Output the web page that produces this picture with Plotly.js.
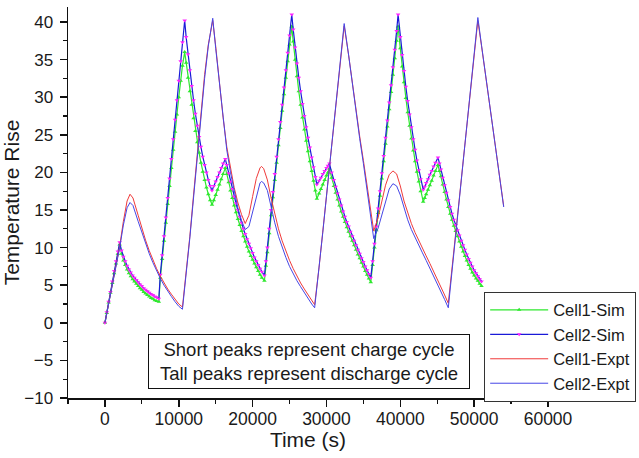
<!DOCTYPE html>
<html>
<head>
<meta charset="utf-8">
<script src="https://cdn.plot.ly/plotly-3.0.1.min.js"></script>
<style>html,body{margin:0;padding:0;background:#fff;}#chart{width:639px;height:458px;}</style>
</head>
<body>
<div id="chart"></div>
<script>
// Simulation time base (s)
const simTime = [
  0,250,500,750,1000,1250,1500,1750,2000,
  2250,2500,2750,3000,3250,3500,3750,4000,4250,4500,4750,5000,5250,5500,5750,6000,6250,6500,6750,7000,7300,
  7500,7750,8000,8250,8500,8750,9000,9250,9500,9750,10000,10250,10500,10800,
  11000,11250,11500,11750,12000,12250,12500,12750,13000,13250,13500,13750,14000,14250,14500,
  14750,15000,15250,15500,15750,16000,16300,
  16500,16750,17000,17250,17500,17750,18000,18250,18500,18750,19000,19250,19500,19750,20000,20250,20500,20750,21000,21250,21600,
  21800,22000,22250,22500,22750,23000,23250,23500,23750,24000,24250,24500,24750,25000,25300,
  25500,25750,26000,26250,26500,26750,27000,27250,27500,27750,28000,28250,28500,28700,
  29000,29250,29500,29750,30000,30200,30400,
  30700,31000,31250,31500,31750,32000,32250,32500,32750,33000,33250,33500,33750,34000,34250,34500,34750,35000,35250,35500,35750,36000,
  36250,36500,36750,37000,37250,37500,37750,38000,38250,38500,38750,39000,39250,39500,39700,
  40000,40250,40500,40750,41000,41250,41500,41750,42000,42250,42500,42750,43100,
  43300,43500,43750,44000,44250,44500,44750,45100,
  45300,45500,45750,46000,46250,46500,46750,47000,47250,47500,47750,48000,48250,48500,48750,49000,49250,49500,49750,50000,50250,50500,50750,51000];
const cell1Sim = [
  0,1.3,2.7,4.0,5.3,6.6,7.9,9.2,10.4,
  9.2,8.3,7.7,7.1,6.6,6.2,5.8,5.5,5.2,4.9,4.6,4.4,4.1,3.9,3.7,3.5,3.3,3.2,3.0,2.9,2.8,
  6.0,8.5,10.9,13.3,15.8,18.2,20.6,23.0,25.4,27.7,30.0,32.2,34.2,36.0,
  34.6,32.6,30.8,29.0,27.2,25.5,24.0,22.6,21.3,20.1,19.0,18.0,17.1,16.3,15.7,
  16.3,17.0,17.7,18.4,19.1,19.8,20.6,
  19.8,18.7,17.6,16.6,15.6,14.7,13.8,13.0,12.2,11.5,10.8,10.1,9.5,8.9,8.4,7.9,7.4,6.9,6.4,6.0,5.6,
  7.6,9.4,11.9,14.3,16.7,19.0,21.3,23.6,25.9,28.2,30.4,32.6,34.8,37.0,39.4,
  37.4,35.0,32.8,30.8,29.0,27.3,25.7,24.2,22.8,21.5,20.2,18.9,17.6,16.5,
  17.2,17.8,18.4,19.0,19.6,20.0,20.5,
  19.3,18.2,17.3,16.4,15.6,14.8,14.1,13.4,12.7,12.1,11.5,10.9,10.3,9.7,9.1,8.6,8.0,7.5,6.9,6.4,5.9,5.4,
  7.7,10.0,12.3,14.6,16.9,19.2,21.5,23.8,26.1,28.4,30.7,33.0,35.2,37.5,39.4,
  36.5,34.1,32.0,29.9,28.0,26.2,24.5,22.9,21.5,20.1,18.8,17.5,16.1,
  16.6,17.1,17.7,18.3,18.9,19.6,20.2,21.0,
  20.2,19.5,18.4,17.4,16.4,15.4,14.5,13.7,12.9,12.2,11.5,10.8,10.1,9.5,8.9,8.3,7.7,7.2,6.7,6.3,5.9,5.6,5.2,4.9];
const cell2Sim = [
  0,1.4,2.8,4.1,5.5,6.9,8.2,9.5,10.7,
  9.6,8.8,8.2,7.6,7.1,6.7,6.3,6.0,5.7,5.4,5.1,4.9,4.6,4.4,4.2,4.0,3.8,3.7,3.5,3.4,3.2,
  6.4,9.0,11.5,14.0,16.6,19.2,21.8,24.4,27.0,29.6,32.2,34.8,37.3,40.2,
  38.0,35.7,33.6,31.5,29.6,27.8,26.2,24.7,23.4,22.1,21.0,20.0,19.0,18.2,17.6,
  18.2,18.8,19.4,20.0,20.6,21.2,21.8,
  21.0,19.9,18.8,17.8,16.8,15.9,15.0,14.1,13.3,12.5,11.8,11.1,10.5,9.9,9.3,8.7,8.2,7.7,7.2,6.8,6.3,
  8.2,10.0,12.5,15.0,17.4,19.8,22.1,24.4,26.7,29.0,31.3,33.6,35.9,38.2,41.0,
  39.0,36.6,34.5,32.6,30.8,29.1,27.5,26.0,24.6,23.3,22.0,20.7,19.4,18.4,
  18.9,19.3,19.8,20.2,20.6,20.9,21.2,
  20.0,19.0,18.1,17.2,16.4,15.6,14.8,14.1,13.4,12.8,12.1,11.5,10.9,10.3,9.7,9.2,8.6,8.1,7.5,7.0,6.5,6.0,
  8.2,10.5,12.8,15.2,17.5,19.9,22.2,24.6,26.9,29.3,31.6,34.0,36.3,38.8,41.0,
  38.0,35.6,33.5,31.4,29.5,27.7,26.0,24.4,23.0,21.6,20.3,19.1,17.7,
  18.1,18.6,19.1,19.7,20.2,20.8,21.3,22.0,
  21.2,20.4,19.3,18.3,17.3,16.3,15.4,14.5,13.7,13.0,12.3,11.6,10.9,10.3,9.7,9.1,8.5,8.0,7.5,7.0,6.6,6.2,5.8,5.5];
// Experiment time base (s)
const exptTime = [0,500,1000,1500,2000,2500,3000,3400,3800,4500,5000,5500,6000,6500,7000,7500,8000,8500,9000,9500,10000,10500,11000,11500,12000,12500,13000,13500,14000,14600,15000,15500,16000,16500,17000,17500,18000,18500,19000,19500,20000,20500,21000,21200,21500,22000,22500,23000,23500,24000,24500,25000,25500,26000,26500,27000,27500,28000,28400,29000,29500,30000,30500,31000,31500,32000,32400,33000,33500,34000,34500,35000,35500,36000,36400,37000,37500,38000,38500,39000,39500,40000,40500,41000,41500,42000,42500,43000,43500,44000,44500,45000,45500,46000,46500,47000,47500,48000,48500,49000,49500,50000,50500,51000,51500,52000,52500,53000,53500,54000];
const cell1Expt = [0,2.5,5.0,7.6,10.2,13.5,16.2,17.1,16.6,14.3,12.6,11.0,9.6,8.3,7.2,6.2,5.3,4.5,3.8,3.1,2.5,2.1,6.5,11.5,17.0,22.5,28.0,33.0,37.0,40.2,36.8,32.0,27.3,23.4,20.4,18.0,16.0,14.4,13.2,14.3,16.8,19.2,20.6,20.8,20.5,19.0,16.6,14.4,12.5,10.9,9.5,8.3,7.2,6.2,5.3,4.5,3.7,3.0,2.4,7.4,12.2,17.0,21.8,26.6,31.3,35.8,39.5,35.6,31.8,28.2,24.8,21.6,18.3,15.0,12.2,14.0,16.3,18.3,19.7,20.2,19.8,18.2,16.2,14.6,13.2,12.0,10.9,9.9,8.9,7.9,6.9,5.9,4.8,3.7,2.6,7.0,11.8,16.6,21.4,26.2,31.0,35.6,40.2,36.8,33.3,29.7,26.1,22.6,19.0,15.5];
const cell2Expt = [0,2.5,5.0,7.5,10.0,13.0,15.3,16.0,15.6,13.5,12.0,10.5,9.2,8.0,6.9,5.9,5.0,4.2,3.5,2.8,2.2,1.8,6.3,11.3,16.6,22.0,27.4,32.5,36.8,40.5,36.5,31.8,27.0,23.0,20.0,17.4,15.3,13.6,12.4,12.8,14.8,17.0,18.6,18.8,18.6,17.6,15.3,13.3,11.5,10.0,8.7,7.5,6.5,5.6,4.8,4.0,3.2,2.5,2.0,7.2,12.0,16.8,21.6,26.4,31.2,36.0,39.8,35.6,31.7,28.0,24.5,21.2,17.8,14.3,11.2,12.6,14.4,16.2,17.8,18.5,18.2,17.0,15.2,13.7,12.4,11.3,10.3,9.3,8.3,7.3,6.3,5.3,4.2,3.1,2.0,6.8,11.6,16.4,21.2,26.0,30.8,35.6,40.6,36.9,33.3,29.7,26.1,22.6,19.0,15.4];
const seriesNames = ['Cell1-Sim','Cell2-Sim','Cell1-Expt','Cell2-Expt'];
const xTickVals = [0,10000,20000,30000,40000,50000,60000];
const yTickVals = [-10,-5,0,5,10,15,20,25,30,35,40];
const noteLines = ['Short peaks represent charge cycle','Tall peaks represent discharge cycle'];

const FONT = '"Liberation Sans", Arial, Helvetica, sans-serif';
const traces = [
  {x: simTime, y: cell1Sim, name: seriesNames[0], type: 'scatter', mode: 'lines+markers',
   line: {color: '#2ee82e', width: 1.2}, marker: {color: '#2ee82e', size: 4, symbol: 'triangle-up'}},
  {x: simTime, y: cell2Sim, name: seriesNames[1], type: 'scatter', mode: 'lines+markers',
   line: {color: '#1a1ad8', width: 1.2}, marker: {color: '#ff22ff', size: 4, symbol: 'triangle-down'}},
  {x: exptTime, y: cell1Expt, name: seriesNames[2], type: 'scatter', mode: 'lines',
   line: {color: '#f03a3a', width: 1}},
  {x: exptTime, y: cell2Expt, name: seriesNames[3], type: 'scatter', mode: 'lines',
   line: {color: '#4646e6', width: 1}}
];

const layout = {
  width: 639, height: 458,
  margin: {l: 68, r: 91, t: 7, b: 60, autoexpand: false},
  paper_bgcolor: '#fff', plot_bgcolor: '#fff',
  font: {family: FONT, color: '#1a1a1a', size: 16},
  showlegend: true,
  legend: {x: 0.867, y: 0.272, xanchor: 'left', yanchor: 'top',
    bordercolor: '#333', borderwidth: 1, bgcolor: '#fff',
    font: {family: FONT, size: 16.5, color: '#1a1a1a'}, itemwidth: 58, tracegroupgap: 0},
  xaxis: {range: [-5000, 60000], tickvals: xTickVals, tickformat: 'd',
    showline: true, linecolor: '#111', linewidth: 1.5, mirror: false,
    ticks: 'outside', ticklen: 7, tickwidth: 1.5, tickcolor: '#111',
    minor: {dtick: 5000, tick0: 0, ticks: 'outside', ticklen: 4, tickwidth: 1.2, tickcolor: '#111', showgrid: false},
    showgrid: false, zeroline: false, tickfont: {size: 17.5}, ticklabelstandoff: -3,
    title: {text: 'Time (s)', font: {size: 21}, standoff: 2}},
  yaxis: {range: [-10, 42], tickvals: yTickVals,
    showline: true, linecolor: '#111', linewidth: 1.5, mirror: false,
    ticks: 'outside', ticklen: 7, tickwidth: 1.5, tickcolor: '#111',
    minor: {dtick: 2.5, tick0: 0, ticks: 'outside', ticklen: 4, tickwidth: 1.2, tickcolor: '#111', showgrid: false},
    showgrid: false, zeroline: false, tickfont: {size: 17}, ticklabelstandoff: 3,
    title: {text: 'Temperature Rise', font: {size: 21}, standoff: 0}},
  annotations: [{xref: 'paper', yref: 'paper', x: 0.502, y: 0.0946, xanchor: 'center', yanchor: 'middle',
    text: noteLines.join('<br>'), showarrow: false, align: 'center',
    font: {family: FONT, size: 18.5, color: '#1a1a1a'},
    bordercolor: '#111', borderwidth: 1, borderpad: 4, bgcolor: '#fff', width: 312}]
};

Plotly.newPlot('chart', traces, layout, {displayModeBar: false, staticPlot: true});
</script>
</body>
</html>
